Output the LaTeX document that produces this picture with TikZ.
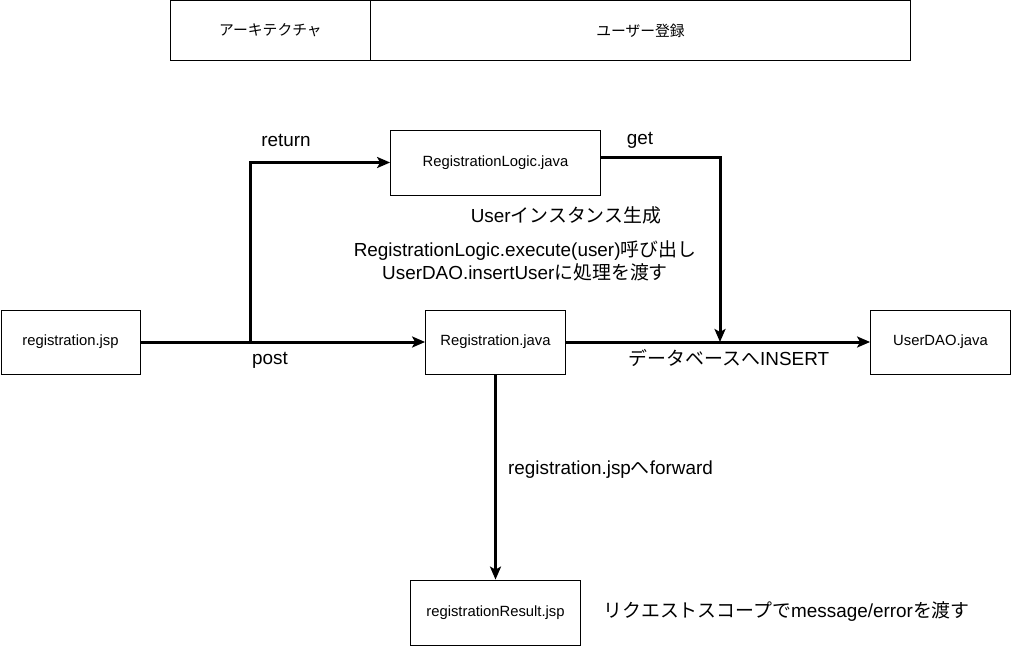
\documentclass[tikz,border=0pt]{standalone}
\usepackage{fontspec}
\setmainfont{Liberation Sans}
\newfontfamily\jpfont{Noto Sans CJK JP}
\newcommand{\jp}[1]{{\jpfont #1}}
\usetikzlibrary{arrows.meta}
\tikzset{
  box/.style={draw=black, line width=0.8pt, fill=white, inner sep=0pt, font=\fontsize{14.8}{17}\selectfont},
  arr/.style={line width=3pt, -{Stealth[length=13pt,width=11pt,inset=3pt]}},
  lbl/.style={font=\fontsize{18.9}{23}\selectfont, inner sep=0pt, align=center}
}
\begin{document}
\begin{tikzpicture}[x=1pt,y=-1pt]
\useasboundingbox (0,0) rectangle (1012,647);
% header table
\node[box, minimum width=200pt, minimum height=60pt] (h1) at (270.5,30.5) {\jp{アーキテクチャ}};
\node[box, minimum width=540pt, minimum height=60pt] (h2) at (640.5,30.5) {\jp{ユーザー登録}};
% boxes
\node[box, minimum width=210pt, minimum height=65pt] (logic) at (495.5,162.5) {RegistrationLogic.java};
\node[box, minimum width=139pt, minimum height=64pt] (rjsp) at (70.5,342) {registration.jsp};
\node[box, minimum width=140pt, minimum height=64pt] (rjava) at (495.5,342) {Registration.java};
\node[box, minimum width=140pt, minimum height=64pt] (dao) at (940.5,342) {UserDAO.java};
\node[box, minimum width=170pt, minimum height=65pt] (result) at (495.5,612.5) {registrationResult.jsp};
% connectors
\coordinate (split) at (250,342);
\coordinate (join) at (720,342);
\draw[arr] (rjsp.east) -- (rjava.west);
\draw[arr] (split) |- (logic.west);
\draw[arr] ([yshift=5pt]logic.east) -| (join);
\draw[arr] (rjava.east) -- (dao.west);
\draw[arr] (rjava.south) -- (result.north);
% labels
\node[lbl] (tret) at (286,140) {return};
\node[lbl] (tget) at (640,140) {get};
\node[lbl] (tpost) at (270,360) {post};
\node[lbl] (tuser) at (566,215) {User\jp{インスタンス生成}};
\node[lbl] (texec) at (525,260.5) {RegistrationLogic.execute(user)\jp{呼び出し}\\UserDAO.insertUser\jp{に処理を渡す}};
\node[lbl] (tdb) at (729,357.5) {\jp{データベースへ}INSERT};
\node[lbl] (tfwd) at (610.5,470) {registration.jsp\jp{へ}forward};
\node[lbl] (treq) at (786.5,612) {\jp{リクエストスコープで}message/error\jp{を渡す}};
\end{tikzpicture}
\end{document}
